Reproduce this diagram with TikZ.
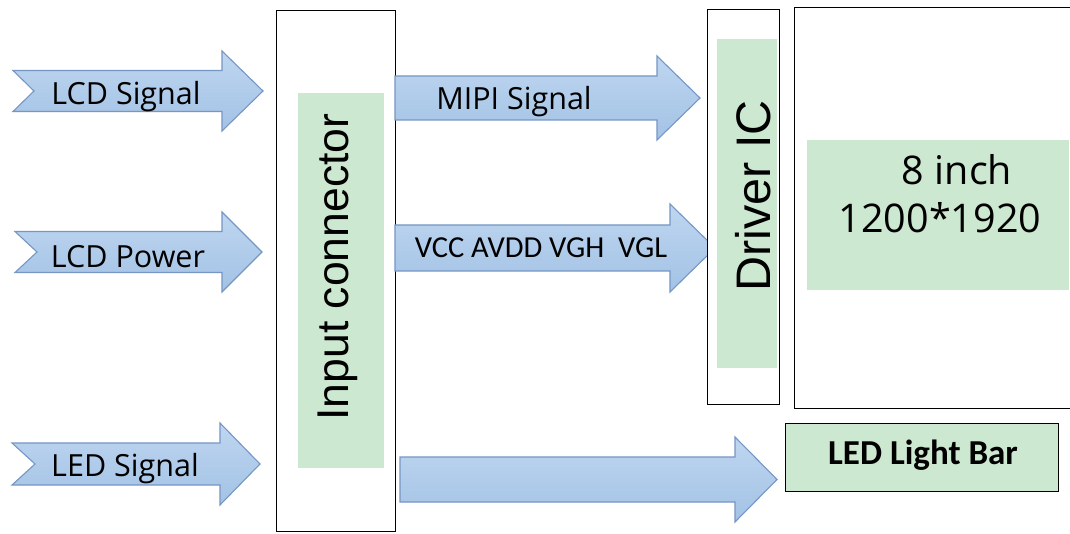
\documentclass[tikz,border=0pt]{standalone}
\usepackage{fontspec}
\setmainfont{Liberation Sans}
\newfontfamily\lblfont{Open Sans}
\newfontfamily\calfont{Carlito}
\definecolor{arrfillA}{RGB}{190,214,240}
\definecolor{arrfillB}{RGB}{163,194,229}
\definecolor{arrline}{RGB}{118,150,196}
\definecolor{boxgreen}{RGB}{205,232,208}
\tikzset{
  blockarrow/.style={draw=arrline, line width=1.1pt, line join=miter, top color=arrfillA, bottom color=arrfillB},
  framebox/.style={draw=black, line width=1pt, fill=white},
  greenbox/.style={fill=boxgreen, draw=none},
  lbl/.style={inner sep=0pt, font=\lblfont\fontsize{30.5}{33}\selectfont},
}
% #1 tail x, #2 notch depth, #3 head start x, #4 tip x, #5 mid y, #6 shaft half, #7 head half
\newcommand{\myarrow}[7]{%
  \path[blockarrow] (#1,#5-#6) -- (#3,#5-#6) -- (#3,#5-#7) -- (#4,#5) -- (#3,#5+#7) -- (#3,#5+#6) -- (#1,#5+#6) -- (#1+#2,#5) -- cycle;}
\begin{document}
\begin{tikzpicture}[x=1pt,y=-1pt]
\useasboundingbox[fill=white] (0,0) rectangle (1070,534);

% left input arrows
\myarrow{13}{21}{222}{263}{91}{20.5}{40}
\myarrow{15}{22}{222}{262}{252}{20.5}{40}
\myarrow{12}{23}{220}{260}{464}{21}{41}
\node[lbl] (lcdsig) at (126,97) {LCD Signal};
\node[lbl] (lcdpow) at (128,257) {LCD Power};
\node[lbl] (ledsig) at (125,469) {LED Signal};

% input connector
\node[framebox, minimum width=119pt, minimum height=521pt, anchor=north west, inner sep=0pt] (conn) at (276,10) {};
\node[greenbox, minimum width=86pt, minimum height=375pt, anchor=north west, inner sep=0pt] (conng) at (298,93) {};
\node[inner sep=0pt, rotate=90, font=\fontsize{44.5}{46}\selectfont] (conntxt) at (338,267) {Input connector};

% output arrows
\myarrow{395}{0}{657}{700}{98}{22}{42}
\myarrow{395}{0}{670}{715}{248}{23}{44}
\myarrow{400}{0}{735}{777}{479.5}{22.5}{42.5}
\node[lbl] (mipi) at (514,102) {MIPI Signal};
\node[inner sep=0pt, font=\calfont\fontsize{30.5}{33}\selectfont] (vcc) at (541,248) {VCC AVDD VGH\ \ VGL};

% driver IC
\node[framebox, minimum width=72pt, minimum height=395pt, anchor=north west, inner sep=0pt] (drv) at (707,9) {};
\node[greenbox, minimum width=60pt, minimum height=329pt, anchor=north west, inner sep=0pt] (drvg) at (717,39) {};
\node[inner sep=0pt, rotate=90, font=\fontsize{48.5}{52}\selectfont] (drvtxt) at (753,196) {Driver IC};

% panel
\node[framebox, minimum width=276pt, minimum height=401pt, anchor=north west, inner sep=0pt] (panel) at (794,7) {};
\node[greenbox, minimum width=262pt, minimum height=150pt, anchor=north west, inner sep=0pt] (panelg) at (807,140) {};
\node[inner sep=0pt, font=\lblfont\fontsize{39.5}{48}\selectfont] (paneltxt1) at (957,170) {8 inch};
\node[inner sep=0pt, font=\lblfont\fontsize{39.5}{48}\selectfont] (paneltxt2) at (940,218) {1200*1920};

% LED light bar
\node[draw=black, line width=1.2pt, fill=boxgreen, minimum width=273pt, minimum height=68pt, anchor=north west, inner sep=0pt] (ledbar) at (785,423) {};
\node[inner sep=0pt, font=\calfont\bfseries\fontsize{35}{36}\selectfont] (ledtxt) at (923,455) {LED Light Bar};
\end{tikzpicture}
\end{document}
